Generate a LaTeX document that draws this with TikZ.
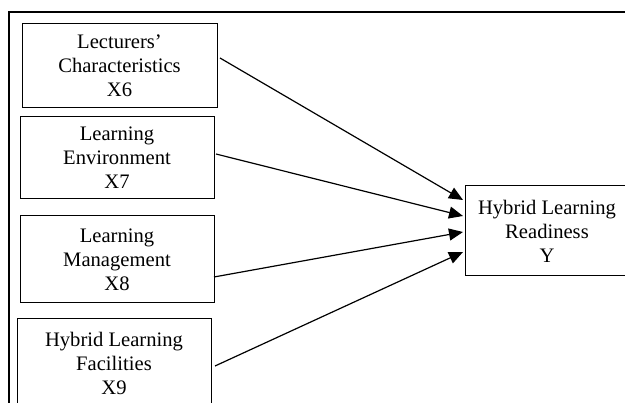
\documentclass[tikz,border=0pt]{standalone}
\usepackage{fontspec}
\setmainfont{Liberation Serif}
\usetikzlibrary{arrows.meta}
\begin{document}
\begin{tikzpicture}[x=1pt,y=-1pt,
  box/.style={draw, line width=1pt, align=center, inner sep=0pt,
    font=\fontsize{20.6}{24}\selectfont},
  conn/.style={line width=1.2pt, -{Triangle[length=14pt,width=12pt]}},
  frame/.style={line width=2pt}]
\useasboundingbox (0,0) rectangle (625,403);
\clip (0,0) rectangle (625,403);
\draw[frame] (8.5,403) -- (8.5,12) -- (625,12);
\node[box, minimum width=195pt, minimum height=84pt] (b1) at (119.5,66) {Lecturers'\\Characteristics\\X6};
\node[box, minimum width=194pt, minimum height=82pt] (b2) at (117,158) {Learning\\Environment\\X7};
\node[box, minimum width=194pt, minimum height=87pt] (b3) at (117,259.5) {Learning\\Management\\X8};
\node[box, minimum width=194pt, minimum height=88pt] (b4) at (114,363) {Hybrid Learning\\Facilities\\X9};
\node[box, minimum width=164pt, minimum height=90pt] (y) at (547,231) {Hybrid Learning\\Readiness\\Y};
\coordinate (s1) at (220,58);
\coordinate (s2) at (216,154);
\coordinate (s3) at (214,277);
\coordinate (s4) at (215,366);
\coordinate (t1) at (463,200);
\coordinate (t2) at (463,216);
\coordinate (t3) at (463,232);
\coordinate (t4) at (463,252);
\draw[conn] (s1) -- (t1);
\draw[conn] (s2) -- (t2);
\draw[conn] (s3) -- (t3);
\draw[conn] (s4) -- (t4);
\end{tikzpicture}
\end{document}
